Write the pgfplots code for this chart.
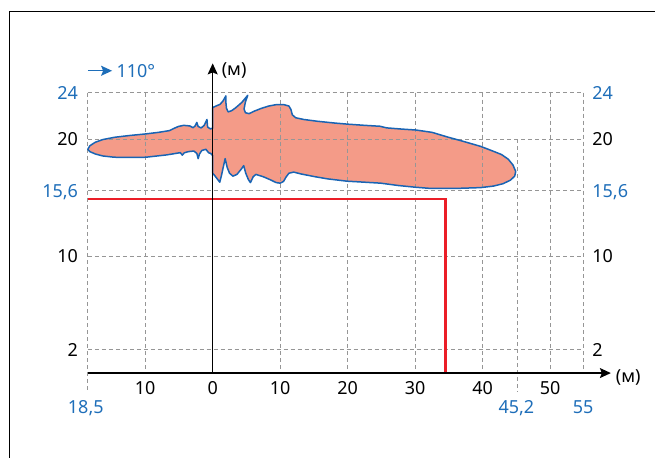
\documentclass[border=0pt]{standalone}
\usepackage{fontspec}
\setmainfont{Noto Sans}
\usepackage{pgfplots}
\pgfplotsset{compat=1.18}
\usetikzlibrary{arrows.meta}
\definecolor{flamefill}{RGB}{244,155,136}
\definecolor{flameline}{RGB}{25,100,180}
\definecolor{lblue}{RGB}{30,110,185}
\definecolor{gridgray}{RGB}{150,150,150}
\definecolor{redline}{RGB}{235,30,40}
\tikzset{gr/.style={gridgray, line width=0.5pt, dash pattern=on 2pt off 1.5pt},
  lab/.style={inner sep=0pt, text depth=0pt},
  arr/.style={line width=0.7pt, -{Stealth[length=5.5pt,width=5pt,inset=1pt]}}}
\begin{document}
\fontsize{9}{11}\selectfont
\begin{tikzpicture}
\begin{axis}[at={(0,0)},anchor=south west, scale only axis,
  width=248.25pt, height=140.35pt,
  xmin=-18.5,xmax=55,ymin=0,ymax=24, axis lines=none, clip=false]
% flame fill
\addplot[fill=flamefill, draw=none] coordinates {
(-18.5,19.15) (-18.2,19.45) (-17.4,19.75) (-16.3,19.98) (-14.5,20.18) (-12.3,20.33) (-10,20.46) (-8,20.6) (-6.4,20.75) (-5.8,20.92) (-5.1,21.1) (-4.3,21.2) (-3.4,21.15) (-2.9,21.0) (-2.6,21.15) (-2.35,21.45) (-2.15,21.1) (-1.7,20.98) (-1.25,21.2) (-0.85,21.7) (-0.75,21.05) (-0.35,20.9) (0,20.95) (0,22.72) (0.6,22.88) (1.1,23.0) (1.55,23.3) (1.95,23.72) (1.95,23.2) (2.05,22.65) (2.3,22.35) (2.8,22.45) (3.4,22.7) (4.3,23.15) (5.2,23.77) (4.85,23.2) (4.65,22.6) (4.85,22.28) (5.4,22.2) (6.1,22.4) (7.2,22.65) (8.3,22.85) (9.4,22.97) (10.5,22.98) (11.3,22.85) (11.6,22.55) (11.8,22.1) (12.3,21.85) (13.5,21.7) (15.5,21.55) (18,21.4) (20,21.3) (22.5,21.2) (24.8,21.12) (25.8,20.98) (28,20.88) (30.1,20.8) (32.5,20.6) (34.8,20.2) (37,19.85) (39.7,19.4) (41.5,19.0) (42.8,18.7) (43.8,18.3) (44.5,17.8) (44.9,17.25) (44.75,16.85) (44.1,16.5) (43,16.2) (41.6,16.0) (39.7,15.87) (36,15.8) (32.3,15.8) (30.1,15.9) (27.5,16.05) (24.9,16.25) (22,16.35) (19.9,16.42) (17,16.62) (15,16.82) (13,17.05) (12.0,17.2) (11.3,17.1) (10.9,16.8) (10.5,16.4) (10.0,16.25) (9.4,16.3) (8.7,16.5) (7.5,16.8) (6.4,17.0) (6.0,16.8) (5.6,16.3) (5.3,16.55) (4.9,17.1) (4.6,17.75) (4.3,17.5) (3.6,17.0) (3.0,16.85) (2.5,17.1) (2.15,17.6) (1.85,18.35) (1.6,17.7) (1.3,16.9) (1.05,16.33) (0.7,16.6) (0.3,16.9) (0,17.1) (0,18.6) (-0.3,18.8) (-0.6,18.85) (-1.0,19.15) (-1.6,19.05) (-1.95,18.75) (-2.15,18.35) (-2.35,18.8) (-2.8,19.0) (-3.6,18.95) (-4.2,18.85) (-4.5,18.65) (-4.8,18.86) (-6.8,18.67) (-9.9,18.47) (-12,18.45) (-14.6,18.47) (-16.3,18.58) (-17.4,18.75) (-18.2,18.95)
} -- cycle;
% grid
\draw[gr] (axis cs:-18.5,2) -- (axis cs:55,2);
\draw[gr] (axis cs:-18.5,10) -- (axis cs:55,10);
\draw[gr] (axis cs:-18.5,15.6) -- (axis cs:55,15.6);
\draw[gr] (axis cs:-18.5,20) -- (axis cs:55,20);
\draw[gr] (axis cs:-18.5,24) -- (axis cs:55,24);
\draw[gr] (axis cs:-10,24) -- (axis cs:-10,0);
\draw[gr] (axis cs:10,24) -- (axis cs:10,0);
\draw[gr] (axis cs:20,24) -- (axis cs:20,0);
\draw[gr] (axis cs:30,24) -- (axis cs:30,0);
\draw[gr] (axis cs:40,24) -- (axis cs:40,0);
\draw[gr] (axis cs:50,24) -- (axis cs:50,0);
\draw[gr] (axis cs:55,24) -- (axis cs:55,0);
\draw[gr] (axis cs:-18.5,24) -- (axis cs:-18.5,-1.65);
\draw[gr] (axis cs:45.2,20) -- (axis cs:45.2,-1.65);
% flame outline
\addplot[draw=flameline, line width=0.75pt, line join=round, fill=none] coordinates {
(-18.5,19.15) (-18.2,19.45) (-17.4,19.75) (-16.3,19.98) (-14.5,20.18) (-12.3,20.33) (-10,20.46) (-8,20.6) (-6.4,20.75) (-5.8,20.92) (-5.1,21.1) (-4.3,21.2) (-3.4,21.15) (-2.9,21.0) (-2.6,21.15) (-2.35,21.45) (-2.15,21.1) (-1.7,20.98) (-1.25,21.2) (-0.85,21.7) (-0.75,21.05) (-0.35,20.9) (0,20.95) (0,22.72) (0.6,22.88) (1.1,23.0) (1.55,23.3) (1.95,23.72) (1.95,23.2) (2.05,22.65) (2.3,22.35) (2.8,22.45) (3.4,22.7) (4.3,23.15) (5.2,23.77) (4.85,23.2) (4.65,22.6) (4.85,22.28) (5.4,22.2) (6.1,22.4) (7.2,22.65) (8.3,22.85) (9.4,22.97) (10.5,22.98) (11.3,22.85) (11.6,22.55) (11.8,22.1) (12.3,21.85) (13.5,21.7) (15.5,21.55) (18,21.4) (20,21.3) (22.5,21.2) (24.8,21.12) (25.8,20.98) (28,20.88) (30.1,20.8) (32.5,20.6) (34.8,20.2) (37,19.85) (39.7,19.4) (41.5,19.0) (42.8,18.7) (43.8,18.3) (44.5,17.8) (44.9,17.25) (44.75,16.85) (44.1,16.5) (43,16.2) (41.6,16.0) (39.7,15.87) (36,15.8) (32.3,15.8) (30.1,15.9) (27.5,16.05) (24.9,16.25) (22,16.35) (19.9,16.42) (17,16.62) (15,16.82) (13,17.05) (12.0,17.2) (11.3,17.1) (10.9,16.8) (10.5,16.4) (10.0,16.25) (9.4,16.3) (8.7,16.5) (7.5,16.8) (6.4,17.0) (6.0,16.8) (5.6,16.3) (5.3,16.55) (4.9,17.1) (4.6,17.75) (4.3,17.5) (3.6,17.0) (3.0,16.85) (2.5,17.1) (2.15,17.6) (1.85,18.35) (1.6,17.7) (1.3,16.9) (1.05,16.33) (0.7,16.6) (0.3,16.9) (0,17.1) (0,18.6) (-0.3,18.8) (-0.6,18.85) (-1.0,19.15) (-1.6,19.05) (-1.95,18.75) (-2.15,18.35) (-2.35,18.8) (-2.8,19.0) (-3.6,18.95) (-4.2,18.85) (-4.5,18.65) (-4.8,18.86) (-6.8,18.67) (-9.9,18.47) (-12,18.45) (-14.6,18.47) (-16.3,18.58) (-17.4,18.75) (-18.2,18.95)
} -- cycle;
% red line
\addplot[redline, line width=1.2pt, line join=miter] coordinates {(-18.5,14.88) (34.5,14.88) (34.5,0)};
% axes
\draw[arr] (axis cs:0,0) -- (axis cs:0,26.5);
\draw[arr] (axis cs:-18.5,0) -- (axis cs:59,0);
\node[anchor=west, inner sep=0pt] at (axis cs:1.3,25.85) {(м)};
\node[anchor=west, inner sep=0pt] at (axis cs:59.7,-0.4) {(м)};
% 110 label
\draw[arr, lblue] (axis cs:-18.5,25.87) -- (axis cs:-14.9,25.87);
\node[lab, anchor=west, text=lblue] at (axis cs:-14.3,25.87) {110°};
% x tick labels
\node[lab] at (axis cs:-10,-1.25) {10};
\node[lab] at (axis cs:0,-1.25) {0};
\node[lab] at (axis cs:10,-1.25) {10};
\node[lab] at (axis cs:20,-1.25) {20};
\node[lab] at (axis cs:30,-1.25) {30};
\node[lab] at (axis cs:40,-1.25) {40};
\node[lab] at (axis cs:50,-1.25) {50};
\node[lab, text=lblue] at (axis cs:-18.8,-2.9) {18,5};
\node[lab, text=lblue] at (axis cs:45.0,-2.9) {45,2};
\node[lab, text=lblue] at (axis cs:54.9,-2.9) {55};
% y tick labels left
\node[lab, anchor=east, text=lblue] at (axis cs:-19.9,24) {24};
\node[lab, anchor=east] at (axis cs:-19.9,20) {20};
\node[lab, anchor=east, text=lblue] at (axis cs:-19.9,15.6) {15,6};
\node[lab, anchor=east] at (axis cs:-19.9,10) {10};
\node[lab, anchor=east] at (axis cs:-19.9,2) {2};
% y tick labels right
\node[lab, anchor=west, text=lblue] at (axis cs:56.2,24) {24};
\node[lab, anchor=west] at (axis cs:56.2,20) {20};
\node[lab, anchor=west, text=lblue] at (axis cs:56.2,15.6) {15,6};
\node[lab, anchor=west] at (axis cs:56.2,10) {10};
\node[lab, anchor=west] at (axis cs:56.2,2) {2};
\end{axis}
\path (-43.95pt,-42.3pt) rectangle (284pt,186.7pt);
\draw[line width=0.7pt] (-39.1pt,-42.3pt) -- (-39.1pt,180.85pt) -- (284pt,180.85pt);
\end{tikzpicture}
\end{document}
